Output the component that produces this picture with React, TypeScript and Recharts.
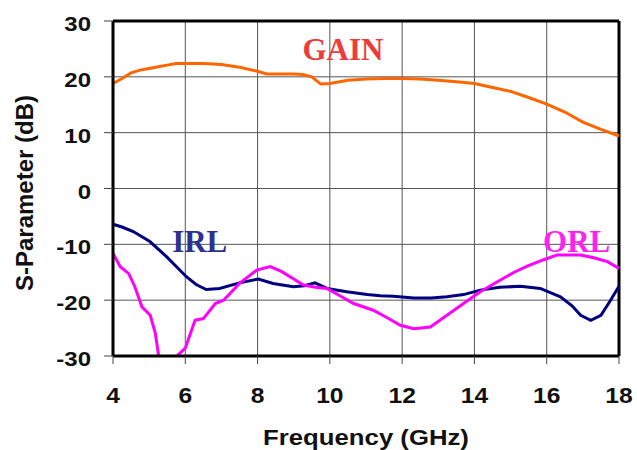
import { LineChart, Line, XAxis, YAxis, CartesianGrid, ReferenceLine, ReferenceDot } from 'recharts'

// values
const gainFreq = [4.0, 4.25, 4.5, 4.75, 5.0, 5.25, 5.5, 5.75, 6.0, 6.5, 7.0, 7.5, 8.0, 8.25, 8.5, 9.0, 9.25, 9.5, 9.75, 10.0, 10.5, 11.0, 11.5, 12.0, 12.5, 13.0, 13.5, 14.0, 14.5, 15.0, 15.5, 16.0, 16.5, 17.0, 17.5, 18.0]
const gainDb = [18.8, 19.7, 20.7, 21.2, 21.5, 21.8, 22.1, 22.4, 22.4, 22.4, 22.2, 21.7, 21.0, 20.5, 20.5, 20.5, 20.4, 20.0, 18.7, 18.8, 19.4, 19.6, 19.7, 19.7, 19.6, 19.4, 19.1, 18.8, 18.1, 17.4, 16.3, 15.1, 13.7, 11.9, 10.6, 9.4]

const irlFreq = [4.0, 4.25, 4.56, 5.02, 5.48, 6.03, 6.3, 6.58, 6.95, 7.5, 8.02, 8.43, 8.99, 9.3, 9.59, 9.92, 10.47, 11.03, 11.4, 11.76, 12.32, 12.8, 13.24, 13.7, 14.16, 14.7, 15.27, 15.82, 16.38, 16.7, 16.94, 17.22, 17.5, 17.75, 18.0]
const irlDb = [-6.4, -6.9, -7.7, -9.5, -12.2, -15.8, -17.2, -18.1, -17.9, -16.9, -16.2, -17.0, -17.6, -17.4, -16.9, -17.9, -18.5, -19.0, -19.2, -19.3, -19.6, -19.6, -19.4, -19.0, -18.2, -17.7, -17.5, -17.9, -19.4, -21.0, -22.7, -23.6, -22.7, -20.2, -17.5]

const orlFreq = [4.0, 4.2, 4.43, 4.6, 4.8, 5.03, 5.17, 5.32, 5.5, 5.7, 5.77, 6.0, 6.27, 6.5, 6.83, 7.06, 7.5, 7.98, 8.35, 8.67, 9.0, 9.27, 9.6, 9.92, 10.3, 10.66, 11.2, 11.6, 11.95, 12.32, 12.78, 13.24, 13.7, 14.16, 14.72, 15.1, 15.46, 15.9, 16.29, 16.94, 17.3, 17.68, 18.0]
const orlDb = [-11.6, -14.0, -15.2, -17.5, -21.2, -22.7, -25.9, -32.5, -35.0, -31.0, -30.0, -28.6, -23.6, -23.3, -20.6, -20.0, -17.0, -14.6, -14.0, -14.9, -16.2, -17.3, -17.7, -17.9, -19.3, -20.6, -21.8, -23.2, -24.5, -25.1, -24.8, -22.7, -20.6, -18.5, -16.4, -15.0, -13.9, -12.8, -11.9, -11.9, -12.4, -13.1, -14.3]

const xTicks = [4, 6, 8, 10, 12, 14, 16, 18]
const yTicks = [-30, -20, -10, 0, 10, 20, 30]

// curve name labels: [freq, dB, text, colour]
const curveLabels: [number, number, string, string][] = [
  [10.36, 23.0, 'GAIN', '#ee3b3b'],
  [6.4, -11.4, 'IRL', '#2e3192'],
  [16.83, -11.4, 'ORL', '#ff22ee'],
]

const toPoints = (fs: number[], vs: number[]) => fs.map((f, i) => ({ f, v: vs[i] }))

const gain = toPoints(gainFreq, gainDb)
const irl = toPoints(irlFreq, irlDb)
const orl = toPoints(orlFreq, orlDb)

const font = 'Arial, "Liberation Sans", sans-serif'

const XTick = (props: any) => {
  const { x, y, payload } = props
  return (
    <g transform={`translate(${x},${y})`}>
      <text transform="scale(1.12,1)" textAnchor="middle" dy={37} fontFamily={font} fontWeight="bold" fontSize={22} fill="#111">
        {payload.value}
      </text>
    </g>
  )
}

const YTick = (props: any) => {
  const { x, y, payload } = props
  return (
    <g transform={`translate(${x},${y})`}>
      <text transform="scale(1.2,1)" textAnchor="end" dy={10} fontFamily={font} fontWeight="bold" fontSize={20} fill="#111">
        {payload.value}
      </text>
    </g>
  )
}

export default function App() {
  return (
    <div style={{ position: 'absolute', left: 0, top: 0, background: '#fff' }}>
      <LineChart width={637} height={450} margin={{ top: 21, right: 18, left: 0, bottom: 0 }}>
        <CartesianGrid stroke="#555" strokeWidth={1} />
        <XAxis
          type="number"
          dataKey="f"
          domain={[4, 18]}
          ticks={xTicks}
          height={94}
          tickSize={8}
          tickMargin={2}
          tick={<XTick />}
          axisLine={{ stroke: '#000', strokeWidth: 3 }}
          tickLine={{ stroke: '#444' }}
          label={{
            content: () => (
              <g transform="translate(366,445)">
                <text transform="scale(1.17,1)" textAnchor="middle" fontFamily={font} fontWeight="bold" fontSize={22} fill="#111">
                  Frequency (GHz)
                </text>
              </g>
            ),
          }}
        />
        <YAxis
          type="number"
          domain={[-30, 30]}
          ticks={yTicks}
          allowDataOverflow
          width={113}
          tickSize={9}
          tickMargin={13}
          tick={<YTick />}
          axisLine={{ stroke: '#000', strokeWidth: 3 }}
          tickLine={{ stroke: '#444' }}
          label={{
            content: () => (
              <text transform="translate(33,193) rotate(-90)" textAnchor="middle" fontFamily={font} fontWeight="bold" fontSize={24} fill="#111">
                S-Parameter (dB)
              </text>
            ),
          }}
        />
        <ReferenceLine y={30} stroke="#000" strokeWidth={3} />
        <ReferenceLine x={18} stroke="#000" strokeWidth={3} />
        <Line data={gain} dataKey="v" stroke="#ff6600" strokeWidth={3} dot={false} isAnimationActive={false} />
        <Line data={irl} dataKey="v" stroke="#000080" strokeWidth={3} dot={false} isAnimationActive={false} />
        <Line data={orl} dataKey="v" stroke="#ff00ff" strokeWidth={3} dot={false} isAnimationActive={false} />
        {curveLabels.map(([f, v, t, c]) => (
          <ReferenceDot
            key={t}
            x={f}
            y={v}
            r={0}
            shape={(p: any) => (
              <text x={p.cx} y={p.cy} textAnchor="middle" fontFamily='"Times New Roman", "Liberation Serif", serif' fontWeight="bold" fontSize={31} fill={c}>
                {t}
              </text>
            )}
          />
        ))}
      </LineChart>
    </div>
  )
}
